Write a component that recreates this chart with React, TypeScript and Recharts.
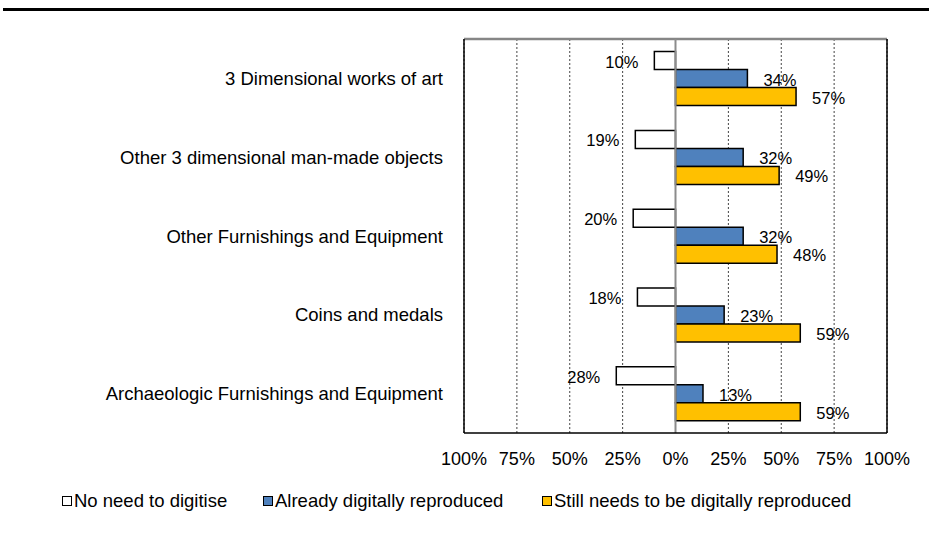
import React from 'react';
import { BarChart, Bar, XAxis, YAxis, CartesianGrid, ReferenceLine, LabelList } from 'recharts';

const categories = [
  '3 Dimensional works of art',
  'Other 3 dimensional man-made objects',
  'Other Furnishings and Equipment',
  'Coins and medals',
  'Archaeologic Furnishings and Equipment',
];
const noNeed = [10, 19, 20, 18, 28];
const already = [34, 32, 32, 23, 13];
const stillNeeds = [57, 49, 48, 59, 59];
const xTicks = [-100, -75, -50, -25, 0, 25, 50, 75, 100];

const seriesInfo = [
  { key: 'noNeed', name: 'No need to digitise', fill: '#FFFFFF' },
  { key: 'already', name: 'Already digitally reproduced', fill: '#4F81BD' },
  { key: 'still', name: 'Still needs to be digitally reproduced', fill: '#FFC000' },
];

// negative values for the left side of the diverging chart
const data = categories.map((c, i) => ({
  name: c,
  noNeed: -noNeed[i],
  already: already[i],
  still: stillNeeds[i],
}));

const FONT = '"Liberation Sans", Arial, sans-serif';

const BarLabel = (props: any) => {
  const { x, y, width, height, value } = props;
  const left = Math.min(x, x + width);
  const right = Math.max(x, x + width);
  const neg = value < 0;
  return (
    <text
      x={neg ? left - 16 : right + 16}
      y={y + height / 2 + 1}
      textAnchor={neg ? 'end' : 'start'}
      dominantBaseline="central"
      fontSize={16.5}
      fontFamily={FONT}
      fill="#000"
    >
      {Math.abs(value)}%
    </text>
  );
};

const legendLeft = [62, 263, 542];

const App: React.FC = () => {
  return (
    <div style={{ position: 'absolute', left: 0, top: 0, width: 929, height: 538, background: '#fff', fontFamily: FONT }}>
      <div style={{ position: 'absolute', left: 3, top: 8, width: 926, height: 2.5, background: '#000' }} />
      <BarChart
        width={929}
        height={538}
        data={data}
        layout="vertical"
        barCategoryGap="16%"
        barGap={0}
        margin={{ top: 39, right: 42, bottom: 75, left: 0 }}
      >
        <CartesianGrid horizontal={false} stroke="#444" strokeDasharray="2 2" />
        {/* grey top edge of the plot area */}
        <CartesianGrid vertical={false} horizontalPoints={[39]} stroke="#868686" strokeWidth={2.5} />
        <XAxis
          type="number"
          domain={[-100, 100]}
          ticks={xTicks}
          tickFormatter={(v: number) => `${Math.abs(v)}%`}
          tickLine={false}
          axisLine={{ stroke: '#000', strokeWidth: 1.5 }}
          tickMargin={13}
          tick={{ fill: '#000', fontSize: 18, fontFamily: FONT }}
          interval={0}
        />
        <YAxis
          type="category"
          dataKey="name"
          width={464}
          tickLine={false}
          axisLine={{ stroke: '#000', strokeWidth: 1.5 }}
          tickMargin={15}
          tick={{ fill: '#000', fontSize: 18.5, fontFamily: FONT }}
          interval={0}
        />
        <ReferenceLine x={100} stroke="#000" strokeWidth={1.5} />
        {seriesInfo.map((s) => (
          <Bar key={s.key} dataKey={s.key} name={s.name} fill={s.fill} stroke="#000" strokeWidth={1.5} isAnimationActive={false}>
            <LabelList dataKey={s.key} content={BarLabel} />
          </Bar>
        ))}
        <ReferenceLine x={0} stroke="#8C8C8C" strokeWidth={2} />
      </BarChart>
      {seriesInfo.map((s, i) => (
        <div
          key={s.key}
          style={{
            position: 'absolute',
            left: legendLeft[i],
            top: 490,
            height: 22,
            display: 'flex',
            alignItems: 'center',
            fontSize: 18.5,
            color: '#000',
            whiteSpace: 'nowrap',
          }}
        >
          <span style={{ display: 'inline-block', width: 8, height: 8, border: '1.5px solid #000', background: s.fill, marginRight: 2 }} />
          {s.name}
        </div>
      ))}
    </div>
  );
};

export default App;
